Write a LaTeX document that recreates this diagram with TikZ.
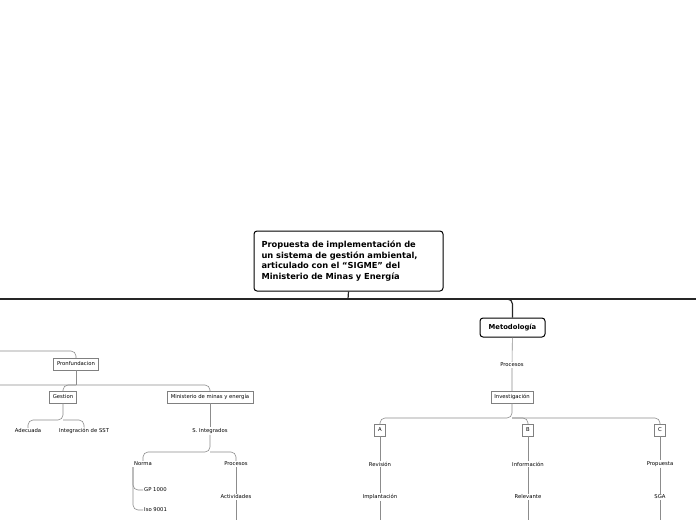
\documentclass[tikz,border=0pt]{standalone}
\usepackage{fontspec}
\setmainfont{DejaVu Sans}
\begin{document}
\begin{tikzpicture}[x=1pt,y=-1pt,
	box/.style={draw=black!50, fill=white, font=\fontsize{5.3}{6}\selectfont, inner xsep=3.5pt, inner ysep=2pt, minimum height=12pt},
	lbl/.style={font=\fontsize{5.3}{6}\selectfont, inner sep=1pt, fill=white},
	link/.style={draw=black!45, line width=0.6pt, rounded corners=5pt},
	main/.style={draw=black!85, line width=1.2pt, rounded corners=5pt}]
	\useasboundingbox (0,0) rectangle (696,520);
	% title and first level
	\node [draw, line width=1pt, rounded corners=3pt, fill=white, align=left, font=\bfseries\fontsize{8.3}{10.5}\selectfont, minimum width=189pt, minimum height=60pt, text width=174pt] (title) at (348.5,261) {Propuesta de implementación de\\ un sistema de gestión ambiental,\\ articulado con el “SIGME” del\\ Ministerio de Minas y Energía};
	\node [draw, line width=1pt, rounded corners=3pt, fill=white, font=\bfseries\fontsize{6.8}{8}\selectfont, minimum width=65pt, minimum height=19pt] (met) at (512.5,327.5) {Metodología};
	\coordinate (mL) at (0,299);
	\coordinate (mR) at (696,299);
	\draw [main] (mL) -- (mR);
	\draw [main] (title.south) -- (348,299);
	\draw [main] (512,299) -| (met.north);
	% right branch
	\node [lbl] (proc) at (512,365) {Procesos};
	\node [box] (inv) at (512,397) {Investigación};
	\draw [link] (met) -- (proc) -- (inv);
	\node [box] (A) at (380,430) {A};
	\node [box] (B) at (528,430) {B};
	\node [box] (C) at (660,430) {C};
	\draw [link] (inv.south) -- (512,418) -| (A.north);
	\draw [link] (512,418) -| (B.north);
	\draw [link] (512,418) -| (C.north);
	\node [lbl] (rev) at (380,464) {Revisión};
	\node [lbl] (imp) at (380,497) {Implantación};
	\node [lbl] (inf) at (528,464) {Información};
	\node [lbl] (rel) at (528,497) {Relevante};
	\node [lbl] (pro) at (660,464) {Propuesta};
	\node [lbl] (sga) at (660,497) {SGA};
	\coordinate (eA) at (380,520);
	\coordinate (eB) at (528,520);
	\coordinate (eC) at (660,520);
	\draw [link] (A) -- (rev) -- (imp) -- (eA);
	\draw [link] (B) -- (inf) -- (rel) -- (eB);
	\draw [link] (C) -- (pro) -- (sga) -- (eC);
	% left branch
	\node [box] (pron) at (76,364) {Pronfundacion};
	\node [box] (ges) at (63,397) {Gestion};
	\node [box] (min) at (210,397) {Ministerio de minas y energía};
	\draw [link] (0,351) -| (pron.north);
	\draw [link] (pron.south) -- (76,385);
	\draw [link] (0,385) -| (min.north);
	\draw [link] (76,385) -| (ges.north);
	\node [lbl] (ade) at (28,431) {Adecuada};
	\node [lbl] (sst) at (84,431) {Integración de SST};
	\draw [link] (ges.south) -- (63,420) -| (ade.north);
	\draw [link] (63,420) -| (sst.north);
	\node [lbl] (sint) at (210,431) {S. Integrados};
	\draw [link] (min) -- (sint);
	\node [lbl] (norma) at (143,464) {Norma};
	\node [lbl] (procs) at (236,464) {Procesos};
	\draw [link] (sint.south) -- (210,452) -| (norma.north);
	\draw [link] (210,452) -| (procs.north);
	\node [lbl, anchor=west] (gp) at (143,490) {GP 1000};
	\node [lbl, anchor=west] (iso) at (143,510) {Iso 9001};
	\draw [link] (norma.south) ++(-10,0) |- (gp.west);
	\draw [link] (norma.south) ++(-10,0) |- (iso.west);
	\node [lbl] (act) at (236,497) {Actividades};
	\coordinate (eP) at (236,520);
	\draw [link] (procs) -- (act) -- (eP);
\end{tikzpicture}
\end{document}
